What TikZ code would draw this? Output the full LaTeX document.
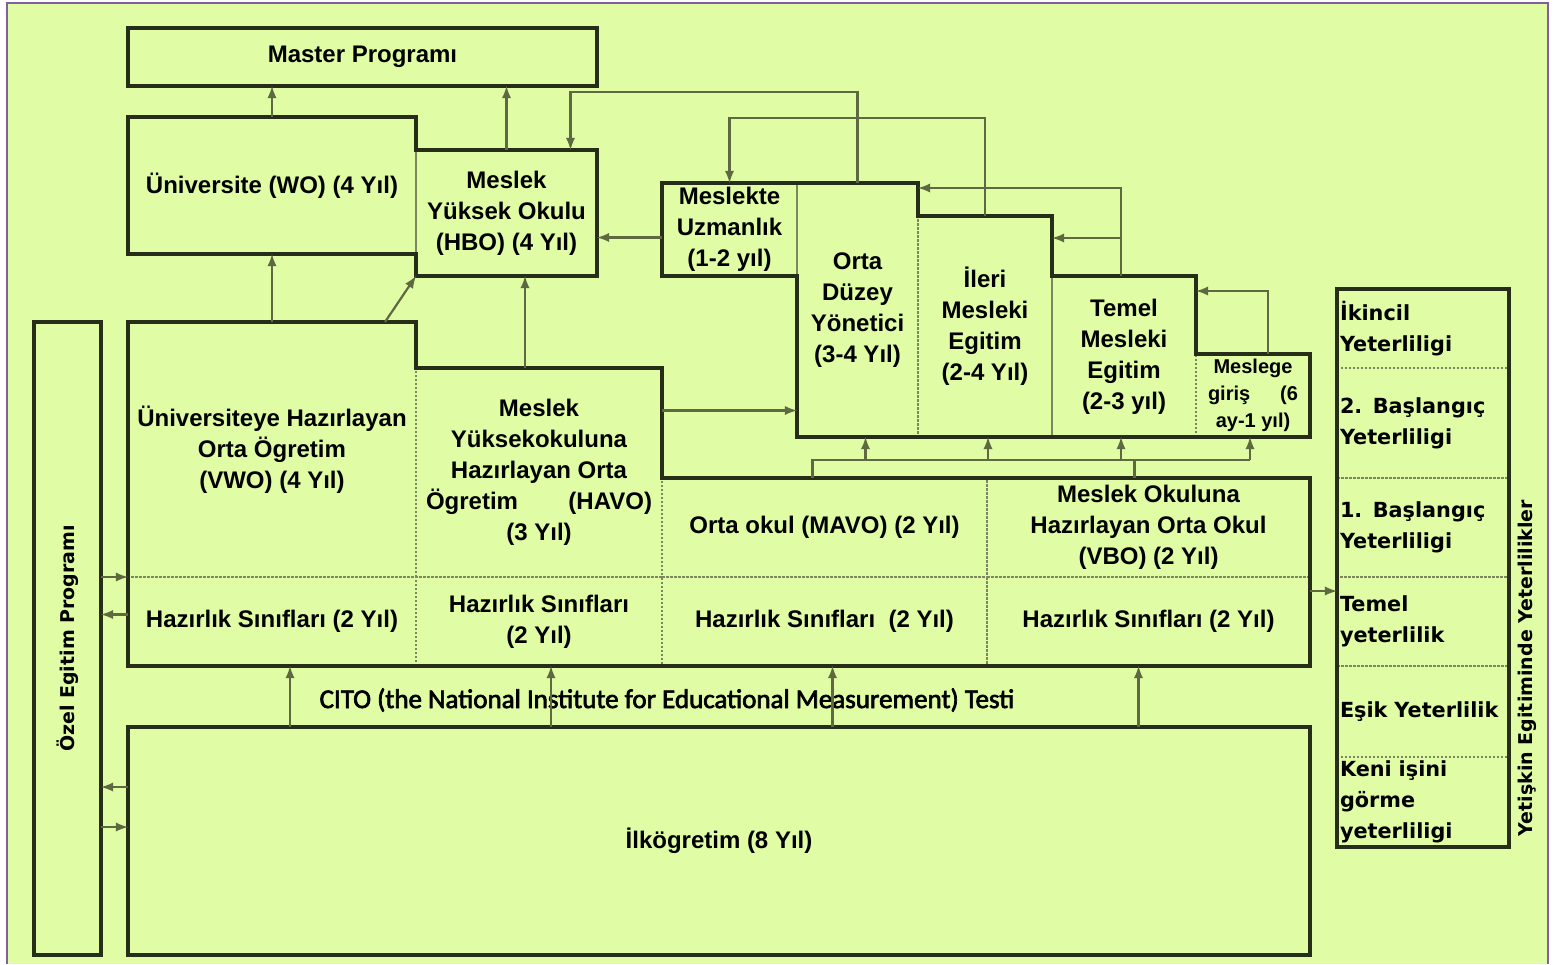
\documentclass[tikz,border=0pt]{standalone}
\usepackage{fontspec}
\setmainfont{Liberation Sans}
\newfontfamily\wideface{DejaVu Sans}
\newfontfamily\citoface{Carlito}[AutoFakeBold=2.5]
\usetikzlibrary{arrows, positioning}

\definecolor{paper}{RGB}{224,253,166}
\definecolor{frameline}{RGB}{128,96,160}
\definecolor{boxline}{RGB}{38,46,25}
\definecolor{dotline}{RGB}{125,135,95}
\definecolor{linkline}{RGB}{95,105,65}

\newcommand{\boxfont}{\fontsize{12}{15.5}\selectfont\bfseries}
\newcommand{\smallboxfont}{\fontsize{10}{13.5}\selectfont\bfseries}
\newcommand{\levelfont}{\wideface\fontsize{10.4}{15.5}\selectfont\bfseries}
\newcommand{\sidefont}{\wideface\fontsize{9.5}{12}\selectfont\bfseries}
\newcommand{\citofont}{\citoface\fontsize{13.5}{15}\selectfont\bfseries}

\begin{document}
\begin{tikzpicture}[x=0.5pt, y=-0.5pt,
  cell/.style={draw=dotline, line width=0.9pt, dash pattern=on 1pt off 1pt, inner sep=0pt, outer sep=0pt,
               align=center, font=\boxfont},
  level/.style={draw=dotline, line width=0.9pt, dash pattern=on 1pt off 1pt, inner xsep=1.5pt, inner ysep=0pt,
                outer sep=0pt, minimum width=86pt, text width=83pt, align=left, font=\levelfont},
  outline/.style={draw=boxline, line width=1.7pt},
  link/.style={draw=linkline, line width=1.1pt, -latex},
  plain/.style={draw=linkline, line width=1.1pt}]

\useasboundingbox (0,0) rectangle (1556,964);
\fill[white] (0,0) rectangle (1556,964);
\fill[paper] (7,3) rectangle (1548,964);
\draw[frameline, line width=1.2pt] (7,964) -- (7,3) -- (1548,3) -- (1548,964);

% HIGHER EDUCATION
\node[outline, minimum width=234.5pt, minimum height=29pt, inner sep=0pt, outer sep=0pt, font=\boxfont] (master) at (362.5,57) {Master Programı};
\node[cell, minimum width=144pt, minimum height=68.5pt] (wo) at (272,185.5) {Üniversite (WO) (4 Yıl)};
\node[cell, minimum width=90.5pt, minimum height=63pt] (hbo) at (506.5,213) {Meslek\\Yüksek Okulu\\(HBO) (4 Yıl)};
\draw[outline] (wo.north west) -- (wo.north east) -- (hbo.north west) -- (hbo.north east) -- (hbo.south east)
      -- (hbo.south west) -- (wo.south east) -- (wo.south west) -- cycle;

% VOCATIONAL LEVELS
\node[cell, minimum width=67.5pt, minimum height=46.5pt] (uzm) at (729.5,229.5) {Meslekte\\Uzmanlık\\(1-2 yıl)};
\node[cell, minimum width=60.5pt, minimum height=127pt] (ody) at (857.5,310) {Orta\\Düzey\\Yönetici\\(3-4 Yıl)};
\node[cell, minimum width=67pt, minimum height=110.5pt] (ileri) at (985,326.5) {İleri\\Mesleki\\Egitim\\(2-4 Yıl)};
\node[cell, minimum width=72pt, minimum height=80.5pt] (temel) at (1124,356.5) {Temel\\Mesleki\\Egitim\\(2-3 yıl)};
\node[cell, minimum width=57pt, minimum height=41.5pt, font=\smallboxfont] (giris) at (1253,395.5) {Meslege\\\makebox[45pt]{giriş\hfill(6}\\ay-1 yıl)};
\draw[outline] (uzm.north west) -- (ody.north east) -- (ileri.north west) -- (ileri.north east) -- (temel.north west)
      -- (temel.north east) -- (giris.north west) -- (giris.north east) -- (giris.south east) -- (ody.south west)
      -- (uzm.south east) -- (uzm.south west) -- cycle;

% SECONDARY EDUCATION
\node[cell, minimum width=144pt, minimum height=127.5pt] (vwo) at (272,449.5) {Üniversiteye Hazırlayan\\Orta Ögretim\\(VWO) (4 Yıl)};
\node[cell, minimum width=123pt, minimum height=104.5pt] (havo) at (539,472.5) {Meslek\\Yüksekokuluna\\Hazırlayan Orta\\\makebox[113pt]{Ögretim\hfill(HAVO)}\\(3 Yıl)};
\node[cell, minimum width=162.5pt, minimum height=49.5pt] (mavo) at (824.5,527.5) {Orta okul (MAVO) (2 Yıl)};
\node[cell, minimum width=161.5pt, minimum height=49.5pt] (vbo) at (1148.5,527.5) {Meslek Okuluna\\Hazırlayan Orta Okul\\(VBO) (2 Yıl)};
\node[cell, minimum width=144pt, minimum height=44.5pt] (hz1) at (272,621.5) {Hazırlık Sınıfları (2 Yıl)};
\node[cell, minimum width=123pt, minimum height=44.5pt] (hz2) at (539,621.5) {Hazırlık Sınıfları\\(2 Yıl)};
\node[cell, minimum width=162.5pt, minimum height=44.5pt] (hz3) at (824.5,621.5) {Hazırlık Sınıfları~~(2 Yıl)};
\node[cell, minimum width=161.5pt, minimum height=44.5pt] (hz4) at (1148.5,621.5) {Hazırlık Sınıfları (2 Yıl)};
\draw[outline] (vwo.north west) -- (vwo.north east) -- (havo.north west) -- (havo.north east) -- (mavo.north west)
      -- (vbo.north east) -- (hz4.south east) -- (hz1.south west) -- cycle;

% PRIMARY AND SPECIAL EDUCATION
\node[outline, minimum width=591pt, minimum height=114pt, outer sep=0pt, font=\boxfont] (ilk) at (719,841) {İlkögretim (8 Yıl)};
\node[outline, minimum width=33.5pt, minimum height=316.5pt, outer sep=0pt] (ozel) at (67.5,638.5) {};
\node[rotate=90, font=\sidefont] (ozeltext) at (ozel) {Özel Egitim Programı};
\node[font=\citofont] (cito) at (667,700) {CITO (the National Institute for Educational Measurement) Testi};

% ADULT QUALIFICATIONS
\node[level, minimum height=39.5pt] (r1) at (1423,328.5) {İkincil\\Yeterliligi};
\node[level, minimum height=55pt] (r2) at (1423,423) {2. Başlangıç\\Yeterliligi};
\node[level, minimum height=49.5pt] (r3) at (1423,527.5) {1. Başlangıç\\Yeterliligi};
\node[level, minimum height=44.5pt] (r4) at (1423,621.5) {Temel\\yeterlilik};
\node[level, minimum height=45.5pt] (r5) at (1423,711.5) {Eşik Yeterlilik};
\node[level, minimum height=45pt] (r6) at (1423,802) {Keni işini\\görme\\yeterliligi};
\draw[outline] (r1.north west) rectangle (r6.south east);
\node[rotate=90, font=\sidefont] (yettext) at (1527,668) {Yetişkin Egitiminde Yeterlilikler};

% ARROWS TO MASTER
\draw[link] (wo.north) -- (wo.north |- master.south);
\draw[link] (hbo.north) -- (hbo.north |- master.south);

% ARROWS BETWEEN VOCATIONAL LEVELS
\draw[link] (ody.north) -- ++(0,-91) -| ([xshift=32pt]hbo.north);
\draw[link] (ileri.north) -- ++(0,-98) -| (uzm.north);
\coordinate (tb) at ([yshift=-11pt]ileri.north east);
\draw[link] ([xshift=-1.5pt]temel.north) |- ([yshift=-2.5pt]ody.north east);
\draw[link] ([xshift=-1.5pt]temel.north |- tb) -- (tb);
\draw[link] ([xshift=7.5pt]giris.north) |- ([yshift=31.5pt]giris.north west);
\coordinate (uz) at ([yshift=-4pt]uzm.west);
\draw[link] (uz) -- (uz -| hbo.east);

% ARROWS FROM SECONDARY
\draw[link] (vwo.north) -- (wo.south);
\draw[link] ([xshift=56.5pt]vwo.north) -- (hbo.south west);
\coordinate (hv) at ([xshift=-7pt]havo.north);
\draw[link] (hv) -- (hv |- hbo.south);
\coordinate (hx) at ([yshift=31pt]havo.east);
\draw[link] (hx) -- (hx -| ody.west);
\coordinate (bus) at ([xshift=-6pt, yshift=9pt]mavo.north);
\draw[plain] (bus |- mavo.north) -- (bus) -- ([xshift=-1.5pt]bus -| giris.south);
\draw[plain] ([xshift=-7pt]vbo.north) -- ([xshift=-7pt]vbo.north |- bus);
\foreach \lvl/\dx in {ody/4, ileri/1.5, temel/-1.5, giris/-1.5}
  \draw[link] ([xshift=\dx pt]bus -| \lvl.south) -- ([xshift=\dx pt]\lvl.south);
\coordinate (vr) at ([yshift=-7pt]hz4.north east);
\draw[link] (vr) -- (vr -| r4.west);

% SPECIAL EDUCATION LINKS
\draw[link] (ozel.east |- hz1.north west) -- (hz1.north west);
\coordinate (oz) at ([yshift=3.5pt]hz1.west);
\draw[link] (oz) -- (oz -| ozel.east);
\coordinate (ia) at ([yshift=27pt]ilk.west);
\draw[link] (ia) -- (ia -| ozel.east);
\coordinate (ib) at ([yshift=7pt]ilk.west);
\draw[link] (ib -| ozel.east) -- (ib);

% ARROWS FROM PRIMARY
\foreach \cl/\dx in {hz1/9, hz2/6, hz3/4, hz4/-5} {
  \coordinate (up) at ([xshift=\dx pt]\cl.south);
  \draw[link] (up |- ilk.north) -- (up);
}

\end{tikzpicture}
\end{document}
